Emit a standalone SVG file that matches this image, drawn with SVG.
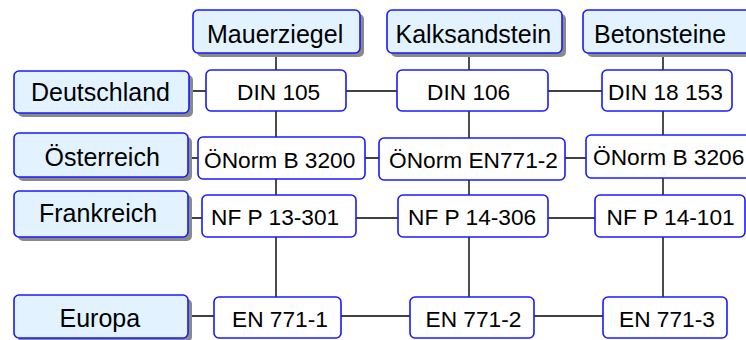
<svg xmlns="http://www.w3.org/2000/svg" width="746" height="340" viewBox="0 0 746 340">
<style>
  .shadow { fill: #8a8a8a; }
  .hdr { fill: #e2f3ff; stroke: #1a1aff; stroke-width: 1.6; }
  .std { fill: #ffffff; stroke: #1a1aff; stroke-width: 1.6; }
  .conn { stroke: #000000; stroke-width: 1.4; fill: none; }
  .lbl { font-family: "Liberation Sans", Arial, sans-serif; font-size: 25px; fill: #000; }
  .norm { font-family: "Liberation Sans", Arial, sans-serif; font-size: 22.7px; fill: #000; }
</style>
<rect width="746" height="340" fill="#ffffff"/>
<g id="connectors">
  <line class="conn" x1="276" y1="53" x2="276" y2="297"/>
  <line class="conn" x1="469" y1="53" x2="469" y2="297"/>
  <line class="conn" x1="663" y1="53" x2="663" y2="297"/>
  <line class="conn" x1="190" y1="91" x2="602" y2="91"/>
  <line class="conn" x1="188" y1="158" x2="586" y2="158"/>
  <line class="conn" x1="188" y1="218" x2="595" y2="218"/>
  <line class="conn" x1="188" y1="316" x2="603" y2="316"/>
</g>
<g id="mauerziegel">
  <rect class="shadow" x="197" y="14" width="167" height="43" rx="5"/>
  <rect class="hdr" x="193" y="10" width="167" height="43" rx="5"/>
  <text class="lbl" x="207" y="43">Mauerziegel</text>
</g>
<g id="kalksandstein">
  <rect class="shadow" x="391" y="14" width="175" height="43" rx="5"/>
  <rect class="hdr" x="387" y="10" width="175" height="43" rx="5"/>
  <text class="lbl" x="395.5" y="43">Kalksandstein</text>
</g>
<g id="betonsteine">
  <rect class="shadow" x="587" y="14" width="175" height="43" rx="5"/>
  <rect class="hdr" x="583" y="10" width="175" height="43" rx="5"/>
  <text class="lbl" x="594" y="43">Betonsteine</text>
</g>
<g id="deutschland">
  <rect class="shadow" x="18" y="75" width="175" height="42" rx="5"/>
  <rect class="hdr" x="14" y="71" width="175" height="42" rx="5"/>
  <text class="lbl" x="31" y="101">Deutschland</text>
</g>
<g id="oesterreich">
  <rect class="shadow" x="18" y="137" width="174" height="44" rx="5"/>
  <rect class="hdr" x="14" y="133" width="174" height="44" rx="5"/>
  <text class="lbl" x="44.5" y="165.5">Österreich</text>
</g>
<g id="frankreich">
  <rect class="shadow" x="18" y="195" width="174" height="46" rx="5"/>
  <rect class="hdr" x="14" y="191" width="174" height="46" rx="5"/>
  <text class="lbl" x="39" y="221.5">Frankreich</text>
</g>
<g id="europa">
  <rect class="shadow" x="18" y="299" width="174" height="43" rx="5"/>
  <rect class="hdr" x="14" y="295" width="174" height="43" rx="5"/>
  <text class="lbl" x="59.5" y="326.5">Europa</text>
</g>
<g id="din105">
  <rect class="std" x="206" y="70" width="140" height="41" rx="5"/>
  <text class="norm" x="237" y="100">DIN 105</text>
</g>
<g id="din106">
  <rect class="std" x="397" y="70" width="151" height="41" rx="5"/>
  <text class="norm" x="427" y="100">DIN 106</text>
</g>
<g id="din18153">
  <rect class="std" x="602" y="70" width="130" height="41" rx="5"/>
  <text class="norm" x="608" y="100">DIN 18 153</text>
</g>
<g id="oenorm-b3200">
  <rect class="std" x="198" y="137" width="167" height="42" rx="5"/>
  <text class="norm" x="204" y="168">ÖNorm B 3200</text>
</g>
<g id="oenorm-en771-2">
  <rect class="std" x="379" y="138" width="186" height="42" rx="5"/>
  <text class="norm" x="389" y="168">ÖNorm EN771-2</text>
</g>
<g id="oenorm-b3206">
  <rect class="std" x="586" y="135" width="170" height="43" rx="5"/>
  <text class="norm" x="593" y="165">ÖNorm B 3206</text>
</g>
<g id="nfp13-301">
  <rect class="std" x="202" y="195" width="154" height="42" rx="5"/>
  <text class="norm" x="211" y="225">NF P 13-301</text>
</g>
<g id="nfp14-306">
  <rect class="std" x="398" y="195" width="150" height="42" rx="5"/>
  <text class="norm" x="408" y="225">NF P 14-306</text>
</g>
<g id="nfp14-101">
  <rect class="std" x="595" y="195" width="150" height="42" rx="5"/>
  <text class="norm" x="606.5" y="225">NF P 14-101</text>
</g>
<g id="en771-1">
  <rect class="std" x="214" y="297" width="127" height="41" rx="5"/>
  <text class="norm" x="232" y="326.5">EN 771-1</text>
</g>
<g id="en771-2">
  <rect class="std" x="410" y="297" width="124" height="41" rx="5"/>
  <text class="norm" x="425.5" y="326.5">EN 771-2</text>
</g>
<g id="en771-3">
  <rect class="std" x="603" y="297" width="124" height="41" rx="5"/>
  <text class="norm" x="619" y="326.5">EN 771-3</text>
</g>
</svg>
